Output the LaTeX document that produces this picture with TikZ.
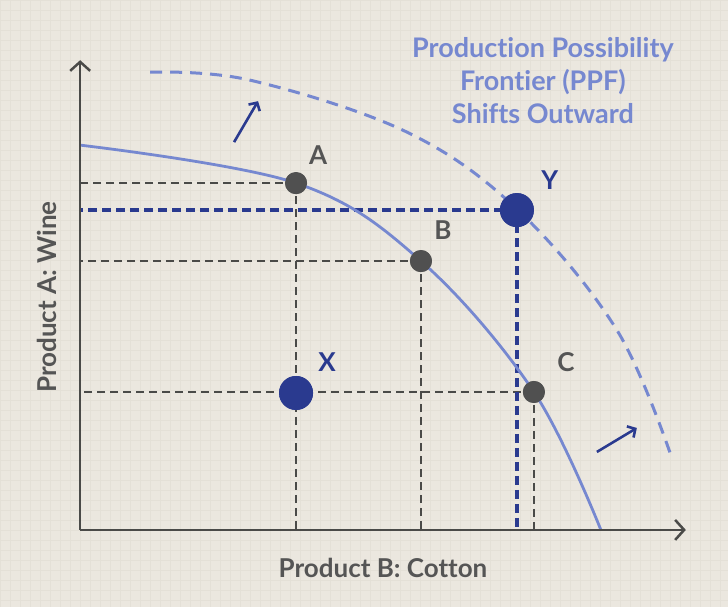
\documentclass[tikz,border=0pt]{standalone}
\usepackage{fontspec}
\setmainfont{Lato}[Ligatures={NoCommon}]
\usetikzlibrary{arrows.meta}
\definecolor{paper}{HTML}{EBE7DF}
\definecolor{gridc}{HTML}{E4E0D7}
\definecolor{axisc}{HTML}{4A4A48}
\definecolor{dotc}{HTML}{505050}
\definecolor{navy}{HTML}{2A3A8F}
\definecolor{ppfc}{HTML}{7688D0}
\definecolor{txtc}{HTML}{555555}

\begin{document}
\begin{tikzpicture}[x=1pt, y=-1pt,
  axis/.style={draw=axisc, line width=2.5pt, -{Straight Barb[length=9pt, width=20pt]}},
  guide/.style={draw=axisc, line width=1.4pt, dash pattern=on 8pt off 5pt},
  yguide/.style={draw=navy, line width=3.2pt, dash pattern=on 9pt off 5pt},
  ppf/.style={draw=ppfc, line width=2.8pt},
  newppf/.style={draw=ppfc, line width=3pt, dash pattern=on 12pt off 8pt},
  outarrow/.style={draw=navy, line width=2.6pt, -{Straight Barb[length=6pt, width=13pt]}},
  dotpt/.style={circle, fill=dotc, inner sep=0pt, minimum size=22pt},
  bigpt/.style={circle, fill=navy, inner sep=0pt, minimum size=34pt},
  lbl/.style={font=\fontsize{26}{30}\selectfont\bfseries, text=txtc},
  nlbl/.style={font=\fontsize{26}{30}\selectfont\bfseries, text=navy}
]
\fill[paper] (0,0) rectangle (728,607);
\draw[gridc, line width=0.4pt] (0,0) grid[step=10pt] (728,607);

\coordinate (O) at (80,530);
\coordinate (ytop) at (80,60);
\coordinate (xend) at (686,530);

\node[dotpt] (A) at (296,183) {};
\node[dotpt] (B) at (421,261) {};
\node[dotpt] (C) at (534,392) {};
\node[bigpt] (X) at (296,393) {};
\node[bigpt] (Y) at (517,210) {};

\draw[guide] (A.center) -- (A.center -| O);
\draw[guide] (A.center) -- (A.center |- O);
\draw[guide] (B.center) -- (B.center -| O);
\draw[guide] (B.center) -- (B.center |- O);
\draw[guide] (C.center) -- (C.center -| O);
\draw[guide] (C.center) -- (C.center |- O);
\draw[yguide] (Y.center) -- (Y.center -| O);
\draw[yguide] (Y.center) -- (Y.center |- O);

\draw[newppf] plot[smooth, tension=0.6] coordinates {(150,72) (250,80) (407,132) (518,210) (617,330) (672,458)};
\draw[ppf] plot[smooth, tension=0.6] coordinates {(80,145) (296,183) (421,261) (534,392) (601,530)};

\draw[axis] (O) -- (ytop);
\draw[axis] (O) -- (xend);

\node[dotpt] at (A) {};
\node[dotpt] at (B) {};
\node[dotpt] at (C) {};
\node[bigpt] at (X) {};
\node[bigpt] at (Y) {};

\coordinate (s1) at (234,142);
\coordinate (e1) at (258,101);
\coordinate (s2) at (597,452);
\coordinate (e2) at (637,428);
\draw[outarrow] (s1) -- (e1);
\draw[outarrow] (s2) -- (e2);

\node[lbl] (la) at (318,155) {A};
\node[lbl] (lb) at (443,230) {B};
\node[lbl] (lc) at (566,362) {C};
\node[nlbl] (lx) at (327,362) {X};
\node[nlbl] (ly) at (550,180) {Y};

\node[lbl, rotate=90] (ylab) at (47,297) {Product A: Wine};
\node[lbl] (xlab) at (383,568) {Product B: Cotton};
\node[font=\fontsize{27}{33}\selectfont\bfseries, text=ppfc, align=center] (title) at (543,80) {Production Possibility\\Frontier (PPF)\\Shifts Outward};
\end{tikzpicture}
\end{document}
